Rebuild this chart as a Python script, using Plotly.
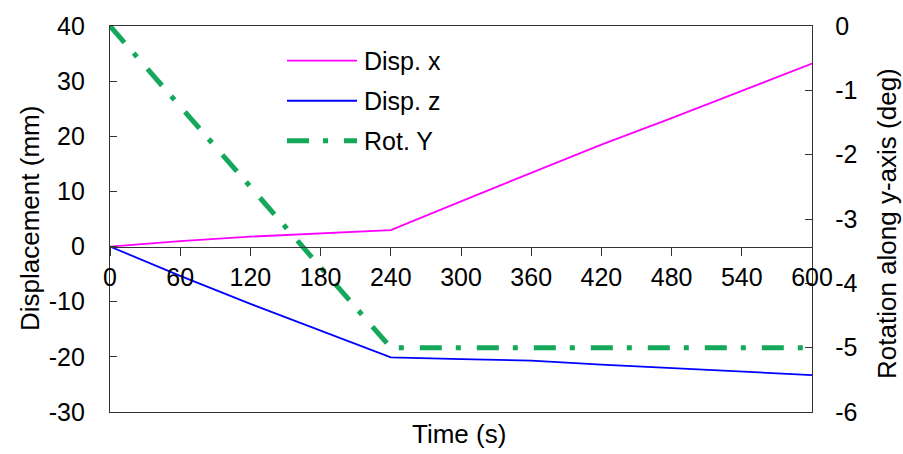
import plotly.graph_objects as go

# Time history of the loading test
time_s = [0, 60, 120, 180, 240, 300, 360, 420, 480, 540, 600]
disp_x_mm = [0.0, 1.0, 1.8, 2.4, 3.0, 8.2, 13.4, 18.5, 23.3, 28.2, 33.2]
disp_z_mm = [0.0, -5.3, -10.4, -15.3, -20.1, -20.4, -20.7, -21.4, -22.0, -22.6, -23.3]
rot_y_time = [0, 240, 600]
rot_y_deg = [0.0, -5.0, -5.0]

x_ticks = [0, 60, 120, 180, 240, 300, 360, 420, 480, 540, 600]
left_ticks = [-30, -20, -10, 0, 10, 20, 30, 40]
right_ticks = [-6, -5, -4, -3, -2, -1, 0]

FONT = "Liberation Sans, Arial, sans-serif"
MAGENTA = "#FF00FF"
BLUE = "#0000FF"
GREEN = "#14A85A"
GREEN_DASH = "22px,14px,5px,16px"
TICK_SIZE = 25
TITLE_SIZE = 26

fig = go.Figure()
fig.add_trace(go.Scatter(x=time_s, y=disp_x_mm, name="Disp. x", mode="lines",
                         line=dict(color=MAGENTA, width=1.8), xaxis="x", yaxis="y"))
fig.add_trace(go.Scatter(x=time_s, y=disp_z_mm, name="Disp. z", mode="lines",
                         line=dict(color=BLUE, width=1.8), xaxis="x", yaxis="y"))
fig.add_trace(go.Scatter(x=rot_y_time, y=rot_y_deg, name="Rot. Y", mode="lines",
                         line=dict(color=GREEN, width=5, dash=GREEN_DASH), xaxis="x", yaxis="y2"))
# carrier for the axis that crosses at zero displacement
fig.add_trace(go.Scatter(x=[0, 600], y=[0, 0], mode="lines", line=dict(width=0),
                         hoverinfo="skip", showlegend=False, xaxis="x2", yaxis="y"))

y_lo, y_hi = -30, 40
zero_pos = (0 - y_lo) / (y_hi - y_lo)

fig.update_layout(
    width=903, height=454,
    margin=dict(l=110, r=91, t=22, b=42),
    paper_bgcolor="white", plot_bgcolor="white",
    showlegend=False,
    font=dict(family=FONT, size=TICK_SIZE, color="black"),
    xaxis=dict(range=[0, 600], showline=True, linecolor="#333", linewidth=1.3, mirror=True,
               showticklabels=False, ticks="", showgrid=False, zeroline=False),
    xaxis2=dict(range=[0, 600], overlaying="x", anchor="free", position=zero_pos, side="bottom",
                tickvals=x_ticks, ticktext=[str(v) for v in x_ticks],
                ticks="outside", ticklen=8, tickcolor="#333",
                showline=True, linecolor="#333", linewidth=1.3, showgrid=False, zeroline=False,
                ticklabelstandoff=0, tickfont=dict(size=TICK_SIZE)),
    yaxis=dict(range=[y_lo, y_hi], tickvals=left_ticks, ticktext=[str(v) for v in left_ticks],
               ticks="inside", ticklen=7, tickcolor="#333",
               showline=True, linecolor="#333", linewidth=1.3, showgrid=False, zeroline=False,
               ticklabelstandoff=19, tickfont=dict(size=TICK_SIZE)),
    yaxis2=dict(range=[-6, 0], tickvals=right_ticks, ticktext=[str(v) for v in right_ticks],
                overlaying="y", side="right", anchor="x",
                ticks="inside", ticklen=7, tickcolor="#333", showline=True, linecolor="#333",
                linewidth=1.3, showgrid=False, zeroline=False,
                ticklabelstandoff=17, tickfont=dict(size=TICK_SIZE)),
)

plot_w, plot_h = 903 - 110 - 91, 454 - 22 - 42

def px_x(px):
    return (px - 110) / plot_w

def px_y(py):
    return 1 - (py - 22) / plot_h

# axis titles
fig.add_annotation(text="Time (s)", xref="paper", yref="paper", x=px_x(459), y=px_y(434),
                   xanchor="center", yanchor="middle", showarrow=False,
                   font=dict(size=TITLE_SIZE))
fig.add_annotation(text="Displacement (mm)", xref="paper", yref="paper", x=px_x(30), y=px_y(217),
                   xanchor="center", yanchor="middle", textangle=-90, showarrow=False,
                   font=dict(size=TITLE_SIZE))
fig.add_annotation(text="Rotation along y-axis (deg)", xref="paper", yref="paper", x=px_x(887),
                   y=px_y(222), xanchor="center", yanchor="middle", textangle=-90,
                   showarrow=False, font=dict(size=TITLE_SIZE))

# legend drawn as line samples with labels
legend_items = [("Disp. x", MAGENTA, 1.8, "solid"),
                ("Disp. z", BLUE, 1.8, "solid"),
                ("Rot. Y", GREEN, 5, GREEN_DASH)]
for i, (label, color, width, dash) in enumerate(legend_items):
    ypx = 57 + 40.5 * i
    fig.add_shape(type="line", xref="paper", yref="paper", x0=px_x(287), x1=px_x(357),
                  y0=px_y(ypx), y1=px_y(ypx), line=dict(color=color, width=width, dash=dash))
    fig.add_annotation(text=label, xref="paper", yref="paper", x=px_x(362), y=px_y(ypx),
                       xanchor="left", yanchor="middle", showarrow=False,
                       font=dict(size=TICK_SIZE))

fig.write_html("out.html")
